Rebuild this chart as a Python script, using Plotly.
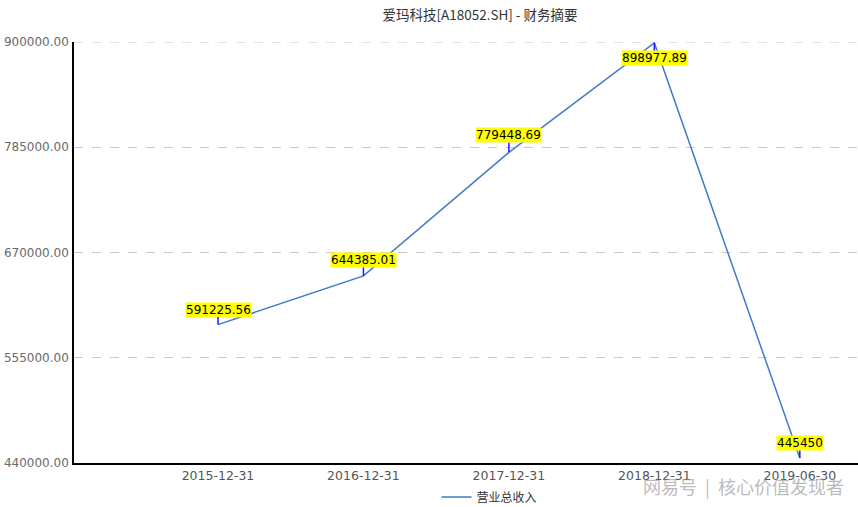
import plotly.graph_objects as go

categories = ["2015-12-31", "2016-12-31", "2017-12-31", "2018-12-31", "2019-06-30"]
revenue = [591225.56, 644385.01, 779448.69, 898977.89, 445450]
labels = ["591225.56", "644385.01", "779448.69", "898977.89", "445450"]
label_dy = [-15, -16, -17, 15, -15]
yticks = [440000, 555000, 670000, 785000, 900000]

CJK = "Noto Sans CJK SC, Microsoft YaHei, sans-serif"
NUM = "DejaVu Sans, sans-serif"

fig = go.Figure()
fig.add_trace(go.Scatter(
    x=list(range(len(categories))), y=revenue, mode="lines",
    name="营业总收入", line=dict(color="#4179C8", width=1.5),
    hoverinfo="skip",
))

for i, (v, t, dy) in enumerate(zip(revenue, labels, label_dy)):
    fig.add_annotation(
        x=i, y=v, xref="x", yref="y", text=t, showarrow=True,
        arrowhead=0, arrowwidth=1.5, arrowcolor="#1a1aff", ax=0, ay=dy,
        bgcolor="#ffff00", borderpad=0,
        font=dict(family=NUM, size=12, color="#000000"),
    )

# top dashed grid line at the range max
fig.add_shape(type="line", xref="paper", yref="y", x0=0, x1=1,
              y0=yticks[-1], y1=yticks[-1],
              line=dict(color="#c8c8c8", width=1, dash="dash"), layer="below")

fig.add_annotation(
    text="网易号  |  核心价值发现者", xref="paper", yref="paper",
    x=1.0, y=-23/421, xanchor="right", yanchor="middle", showarrow=False,
    xshift=-12,
    font=dict(family=CJK, size=18, color="rgba(140,140,140,0.6)"),
)

fig.update_layout(
    width=858, height=507,
    margin=dict(l=74, r=0, t=42, b=44, autoexpand=False),
    paper_bgcolor="white", plot_bgcolor="white",
    font=dict(family=CJK, size=12, color="#555"),
    title=dict(text="爱玛科技[A18052.SH] - 财务摘要", x=480/858, xanchor="center",
               y=1 - 15/507, yanchor="middle",
               font=dict(family=CJK, size=13.5, color="#333")),
    showlegend=True,
    legend=dict(orientation="h", x=0.53, xanchor="center", y=-34/421, yanchor="middle",
                font=dict(family=CJK, size=12, color="#333")),
    xaxis=dict(
        tickmode="array", tickvals=list(range(len(categories))), ticktext=categories,
        range=[-0.99, 4.4], showgrid=False, showline=True, linecolor="#000",
        linewidth=1.5, ticks="", zeroline=False, automargin=False,
        tickfont=dict(family=NUM, size=12.5, color="#555"),
    ),
    yaxis=dict(
        range=[440000, 900000], tickvals=yticks,
        ticktext=[f"{v:.2f}" for v in yticks],
        showgrid=True, gridcolor="#c8c8c8", griddash="dash", gridwidth=1,
        showline=True, linecolor="#000", linewidth=1.5, zeroline=False,
        ticks="", automargin=False, ticklabelstandoff=1,
        tickfont=dict(family=NUM, size=12, color="#6a6a6a"),
    ),
)

fig.write_html("out.html", config={"displayModeBar": False},
               post_script="document.body.style.margin='0';document.body.style.overflow='hidden';")
